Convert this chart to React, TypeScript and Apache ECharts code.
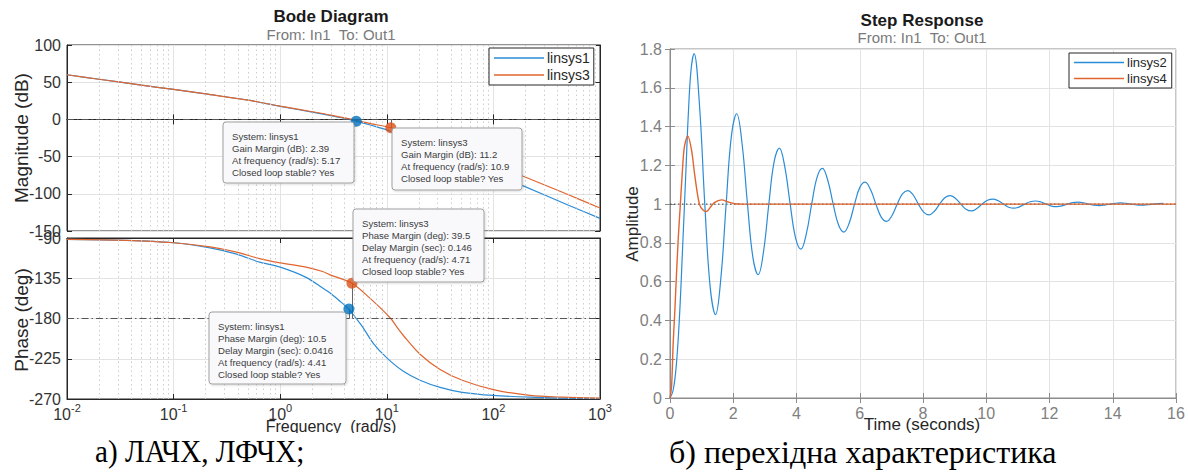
import React, { useEffect, useRef } from 'react';
import * as echarts from 'echarts';

// ---------- Bode magnitude (dB) ----------
const magFreq1 = [0.01, 0.02, 0.05, 0.1, 0.2, 0.5, 1, 2, 3, 4.41, 5.17, 7, 10, 20, 50, 100, 188, 500, 1000];
const magVal1 = [60, 54, 46, 40.3, 34.2, 25.8, 17.5, 9.8, 4.9, 0, -2.39, -7.5, -14, -31, -54, -72, -89, -115, -133];
const magFreq3 = [0.01, 0.02, 0.05, 0.1, 0.2, 0.5, 1, 2, 3, 4.71, 7, 10.9, 20, 50, 100, 188, 500, 1000];
const magVal3 = [60, 54, 46, 40.3, 34.2, 25.9, 17.8, 10.3, 5.8, 0, -5.6, -11.2, -23.5, -43, -60, -76, -101, -119];

// ---------- Bode phase (deg) ----------
const phFreq1 = [0.01, 0.036, 0.1, 0.22, 0.39, 0.64, 1, 1.75, 2.5, 2.9, 3.5, 4.41, 5.17, 5.9, 7.5, 10, 14.3, 20.5, 31.6, 51, 100, 220, 450, 1000];
const phVal1 = [-91.5, -92.6, -95.3, -101, -108, -117, -122.6, -134, -146, -151, -159, -169.5, -180, -189, -208, -224, -239, -249, -257, -262.5, -266, -268, -269, -269.5];
const phFreq3 = [0.01, 0.036, 0.1, 0.22, 0.39, 0.64, 1, 1.75, 2.5, 2.9, 4.71, 6.9, 10.9, 12.5, 14.3, 20.5, 31.6, 51, 100, 220, 450, 1000];
const phVal3 = [-91.5, -92.6, -95.3, -100, -105.8, -113, -117.8, -122.6, -127.5, -131, -140.5, -157, -180, -190, -199, -220, -237, -249, -259.5, -266, -268, -269];

// ---------- Margin markers ----------
const gmFreq = [5.17, 10.9];
const gmMag = [-2.39, -11.2];
const pmFreq = [4.41, 4.71];
const pmPhase = [-169.5, -140.5];

// ---------- Step response ----------
const stepT2 = [0, 0.1, 0.2, 0.3, 0.4, 0.5, 0.59, 0.67, 0.76, 0.93, 1.1, 1.27, 1.44, 1.61, 1.775, 1.94, 2.11, 2.28, 2.45, 2.62, 2.79, 2.96, 3.125, 3.29, 3.46, 3.63, 3.8, 3.97, 4.14, 4.31, 4.48, 4.65, 4.82, 4.99, 5.16, 5.33, 5.5, 5.67, 5.835, 6.0, 6.17, 6.34, 6.51, 6.68, 6.85, 7.02, 7.185, 7.35, 7.52, 7.69, 7.855, 8.02, 8.19, 8.36, 8.525, 8.69, 8.86, 9.03, 9.195, 9.36, 9.53, 9.7, 9.87, 10.04, 10.21, 10.38, 10.545, 10.71, 10.88, 11.05, 11.22, 11.39, 11.56, 11.73, 11.895, 12.06, 12.23, 12.4, 12.565, 12.73, 12.9, 13.07, 13.24, 13.41, 13.58, 13.75, 13.915, 14.08, 14.25, 14.42, 14.59, 14.76, 14.93, 15.1, 15.265, 15.43, 15.6];
const stepY2 = [0, 0.04, 0.17, 0.42, 0.78, 1.16, 1.5, 1.7, 1.776, 1.516, 1.0, 0.573, 0.43, 0.621, 1.0, 1.349, 1.466, 1.31, 1.0, 0.727, 0.636, 0.758, 1.0, 1.217, 1.289, 1.192, 1.0, 0.826, 0.768, 0.846, 1.0, 1.138, 1.184, 1.122, 1.0, 0.892, 0.856, 0.904, 1.0, 1.085, 1.113, 1.075, 1.0, 0.933, 0.911, 0.941, 1.0, 1.053, 1.07, 1.047, 1.0, 0.959, 0.945, 0.963, 1.0, 1.033, 1.044, 1.029, 1.0, 0.974, 0.965, 0.977, 1.0, 1.02, 1.026, 1.017, 1.0, 0.984, 0.979, 0.986, 1.0, 1.012, 1.016, 1.011, 1.0, 0.99, 0.987, 0.991, 1.0, 1.0075, 1.01, 1.007, 1.0, 0.994, 0.992, 0.995, 1.0, 1.0045, 1.006, 1.004, 1.0, 0.996, 0.995, 0.997, 1.0, 1.003, 1.004];
const stepT4 = [0, 0.05, 0.1, 0.15, 0.2, 0.26, 0.32, 0.38, 0.45, 0.56, 0.68, 0.79, 0.93, 1.05, 1.16, 1.28, 1.4, 1.63, 1.85, 2.05, 2.3, 16];
const stepY4 = [0, 0.06, 0.28, 0.44, 0.62, 0.82, 0.98, 1.14, 1.29, 1.352, 1.28, 1.14, 1.0, 0.968, 0.962, 0.985, 1.008, 1.022, 1.01, 1.002, 1.0, 1.0];
const stepRefT = [0, 16];
const stepRefY = [1, 1];

// ---------- Axes ----------
const decadeMantissas = [2, 3, 4, 5, 6, 7, 8, 9];
const decades = [0.01, 0.1, 1, 10, 100];

const BLUE = '#2b8cd6';
const ORANGE = '#e0652f';
const BLUE_M = '#0072BD';
const ORANGE_M = '#D95319';
const FONT = '"Liberation Sans", Arial, Helvetica, sans-serif';
const SERIF = '"Liberation Serif", "Times New Roman", serif';
const AX = '#262626';
const GRIDC = '#e3e3e3';

const zip = (xs: number[], ys: number[]) => xs.map((x, i) => [x, ys[i]]);

const minorLines = decades.flatMap((d) => decadeMantissas.map((m) => ({
  xAxis: +(d * m).toPrecision(3),
  lineStyle: { type: [1.5, 3], color: '#cdcdcd', width: 1 },
})));

const dashDot = { type: [7, 3, 1.5, 3], color: '#555', width: 1 };
const stem = { type: 'solid', color: '#666', width: 1 };

function tip(x: number, y: number, w: number, h: number, lines: string[]) {
  return {
    type: 'group',
    z: 50,
    children: [
      {
        type: 'rect', z: 50,
        shape: { x, y, width: w, height: h, r: 3 },
        style: { fill: '#f9f9fc', stroke: '#a0a0a0', lineWidth: 1, shadowBlur: 2, shadowColor: 'rgba(0,0,0,0.15)', shadowOffsetX: 1, shadowOffsetY: 1 },
      },
      {
        type: 'text', z: 51,
        style: {
          x: x + 9, y: y + 8, text: lines.join('\n'), fill: '#3c3c3c',
          fontSize: 9.6, fontFamily: FONT, lineHeight: 12, verticalAlign: 'top', textVerticalAlign: 'top',
        },
      },
    ],
  };
}

function centeredText(x: number, y: number, text: string, size: number, color: string, bold = false, rotation = 0, family = FONT) {
  return {
    type: 'text', z: 60, x, y, rotation,
    style: {
      x: 0, y: 0, text, fill: color, fontSize: size, fontFamily: family, fontWeight: bold ? 'bold' : 'normal',
      align: 'center', textAlign: 'center', verticalAlign: 'middle', textVerticalAlign: 'middle',
    },
  };
}

export default function App() {
  const ref = useRef<HTMLDivElement>(null);
  useEffect(() => {
    if (!ref.current) return;
    const chart = echarts.init(ref.current, undefined, { renderer: 'svg' });

    const logAxisCommon = {
      type: 'log', logBase: 10, min: 0.01, max: 1000,
      axisLine: { show: true, lineStyle: { color: AX } },
      axisTick: { show: true, inside: true, length: 5, lineStyle: { color: AX } },
      splitLine: { show: true, lineStyle: { color: GRIDC, width: 1 } },
      minorTick: { show: false },
    };
    const stepAxisLine = { show: true, lineStyle: { color: '#8c8c8c' } };
    const stepTick = { show: true, inside: true, length: 5, lineStyle: { color: '#8c8c8c' } };

    const option: any = {
      animation: false,
      textStyle: { fontFamily: FONT },
      grid: [
        { left: 67, top: 45, width: 533, height: 186, show: true, borderColor: AX, borderWidth: 1, backgroundColor: '#fff' },
        { left: 67, top: 238, width: 533, height: 161, show: true, borderColor: AX, borderWidth: 1, backgroundColor: '#fff' },
        { left: 670, top: 49, width: 506, height: 349, show: true, borderColor: '#8c8c8c', borderWidth: 1, backgroundColor: '#fff' },
      ],
      xAxis: [
        { ...logAxisCommon, gridIndex: 0, axisLabel: { show: false } },
        {
          ...logAxisCommon, gridIndex: 1,
          axisLabel: {
            show: true, margin: 3,
            formatter: (v: number) => `{b|10}{s|${Math.round(Math.log10(v))}}`,
            rich: {
              b: { fontSize: 16, color: '#333', fontFamily: FONT, lineHeight: 20, verticalAlign: 'bottom' },
              s: { fontSize: 11, color: '#333', fontFamily: FONT, lineHeight: 12, verticalAlign: 'top' },
            },
          },
        },
        { ...logAxisCommon, gridIndex: 0, position: 'top', axisLabel: { show: false }, splitLine: { show: false } },
        { ...logAxisCommon, gridIndex: 1, position: 'top', axisLabel: { show: false }, splitLine: { show: false } },
        {
          type: 'value', gridIndex: 2, min: 0, max: 16, interval: 2,
          axisLine: stepAxisLine, axisTick: stepTick,
          axisLabel: { fontSize: 16, color: '#808080', margin: 7 },
          splitLine: { show: true, lineStyle: { color: GRIDC } },
        },
        {
          type: 'value', gridIndex: 2, min: 0, max: 16, interval: 2, position: 'top',
          axisLine: stepAxisLine, axisTick: stepTick, axisLabel: { show: false }, splitLine: { show: false },
        },
      ],
      yAxis: [
        {
          type: 'value', gridIndex: 0, min: -150, max: 100, interval: 50,
          axisLine: { show: true, lineStyle: { color: AX } },
          axisTick: { show: true, inside: true, length: 5, lineStyle: { color: AX } },
          axisLabel: { fontSize: 16, color: '#333', margin: 6 },
          splitLine: { show: true, lineStyle: { color: GRIDC } },
        },
        {
          type: 'value', gridIndex: 1, min: -270, max: -90, interval: 45,
          axisLine: { show: true, lineStyle: { color: AX } },
          axisTick: { show: true, inside: true, length: 5, lineStyle: { color: AX } },
          axisLabel: { fontSize: 16, color: '#333', margin: 6 },
          splitLine: { show: true, lineStyle: { color: GRIDC } },
        },
        {
          type: 'value', gridIndex: 2, min: 0, max: 1.8, interval: 0.2,
          axisLine: stepAxisLine, axisTick: stepTick,
          axisLabel: { fontSize: 16, color: '#808080', margin: 8 },
          splitLine: { show: true, lineStyle: { color: GRIDC } },
        },
        {
          type: 'value', gridIndex: 0, min: -150, max: 100, interval: 50, position: 'right',
          axisLine: { show: true, lineStyle: { color: AX } },
          axisTick: { show: true, inside: true, length: 5, lineStyle: { color: AX } },
          axisLabel: { show: false }, splitLine: { show: false },
        },
        {
          type: 'value', gridIndex: 1, min: -270, max: -90, interval: 45, position: 'right',
          axisLine: { show: true, lineStyle: { color: AX } },
          axisTick: { show: true, inside: true, length: 5, lineStyle: { color: AX } },
          axisLabel: { show: false }, splitLine: { show: false },
        },
        {
          type: 'value', gridIndex: 2, min: 0, max: 1.8, interval: 0.2, position: 'right',
          axisLine: stepAxisLine, axisTick: stepTick, axisLabel: { show: false }, splitLine: { show: false },
        },
      ],
      legend: [
        {
          data: [{ name: 'linsys1', itemStyle: { color: BLUE } }, { name: 'linsys3', itemStyle: { color: ORANGE } }],
          orient: 'vertical', left: 489, top: 48,
          icon: 'rect', itemWidth: 50, itemHeight: 1.6, itemGap: 3,
          itemStyle: { borderWidth: 0 },
          padding: [3, 4, 3, 5], borderColor: AX, borderWidth: 1, borderRadius: 0, backgroundColor: '#fff',
          textStyle: { fontSize: 14, color: AX, fontFamily: FONT, padding: [0, 0, 0, -2] },
          selectedMode: false, z: 40,
        },
        {
          data: [{ name: 'linsys2', itemStyle: { color: BLUE } }, { name: 'linsys4', itemStyle: { color: ORANGE } }],
          orient: 'vertical', left: 1069, top: 53,
          icon: 'rect', itemWidth: 50, itemHeight: 1.6, itemGap: 3,
          itemStyle: { borderWidth: 0 },
          padding: [3, 5, 3, 5], borderColor: AX, borderWidth: 1, borderRadius: 0, backgroundColor: '#fff',
          textStyle: { fontSize: 13, color: AX, fontFamily: FONT, padding: [0, 0, 0, -2] },
          selectedMode: false, z: 40,
        },
      ],
      series: [
        // helpers: minor grid + reference lines
        {
          type: 'line', xAxisIndex: 0, yAxisIndex: 0, data: [], silent: true, z: 1,
          markLine: {
            silent: true, symbol: ['none', 'none'], label: { show: false }, animation: false,
            data: [
              ...minorLines,
              { yAxis: 0, lineStyle: dashDot },
              [{ coord: [gmFreq[0], 0], lineStyle: stem }, { coord: [gmFreq[0], gmMag[0]] }],
              [{ coord: [gmFreq[1], 0], lineStyle: stem }, { coord: [gmFreq[1], gmMag[1]] }],
            ],
          },
        },
        {
          type: 'line', xAxisIndex: 1, yAxisIndex: 1, data: [], silent: true, z: 1,
          markLine: {
            silent: true, symbol: ['none', 'none'], label: { show: false }, animation: false,
            data: [
              ...minorLines,
              { yAxis: -180, lineStyle: dashDot },
              [{ coord: [pmFreq[0], -180], lineStyle: stem }, { coord: [pmFreq[0], pmPhase[0]] }],
              [{ coord: [pmFreq[1], -180], lineStyle: stem }, { coord: [pmFreq[1], pmPhase[1]] }],
            ],
          },
        },
        {
          type: 'line', xAxisIndex: 4, yAxisIndex: 2, data: zip(stepRefT, stepRefY), silent: true, z: 1,
          showSymbol: false, color: '#333', lineStyle: { type: [1.5, 2.5], width: 1, color: '#333' },
        },
        // Bode magnitude
        { name: 'linsys1', type: 'line', xAxisIndex: 0, yAxisIndex: 0, data: zip(magFreq1, magVal1), showSymbol: false, smooth: 0.3, color: BLUE, lineStyle: { width: 1.2 }, z: 3 },
        { name: 'linsys3', type: 'line', xAxisIndex: 0, yAxisIndex: 0, data: zip(magFreq3, magVal3), showSymbol: false, smooth: 0.3, color: ORANGE, lineStyle: { width: 1.2 }, z: 3 },
        // Bode phase
        { name: 'linsys1', type: 'line', xAxisIndex: 1, yAxisIndex: 1, data: zip(phFreq1, phVal1), showSymbol: false, smooth: 0.3, color: BLUE, lineStyle: { width: 1.2 }, z: 3 },
        { name: 'linsys3', type: 'line', xAxisIndex: 1, yAxisIndex: 1, data: zip(phFreq3, phVal3), showSymbol: false, smooth: 0.3, color: ORANGE, lineStyle: { width: 1.2 }, z: 3 },
        // markers
        { type: 'scatter', xAxisIndex: 0, yAxisIndex: 0, symbolSize: 11, z: 5, data: [{ value: [gmFreq[0], gmMag[0]], itemStyle: { color: BLUE_M } }, { value: [gmFreq[1], gmMag[1]], itemStyle: { color: ORANGE_M } }] },
        { type: 'scatter', xAxisIndex: 1, yAxisIndex: 1, symbolSize: 11, z: 5, data: [{ value: [pmFreq[0], pmPhase[0]], itemStyle: { color: BLUE_M } }, { value: [pmFreq[1], pmPhase[1]], itemStyle: { color: ORANGE_M } }] },
        // Step response
        { name: 'linsys2', type: 'line', xAxisIndex: 4, yAxisIndex: 2, data: zip(stepT2, stepY2), showSymbol: false, smooth: 0.4, color: BLUE, lineStyle: { width: 1.2 }, z: 3 },
        { name: 'linsys4', type: 'line', xAxisIndex: 4, yAxisIndex: 2, data: zip(stepT4, stepY4), showSymbol: false, smooth: 0.3, color: ORANGE, lineStyle: { width: 1.4 }, z: 4 },
      ],
      graphic: [
        centeredText(331, 16, 'Bode Diagram', 17, '#1a1a1a', true),
        centeredText(331, 34, 'From: In1  To: Out1', 15, '#7a7a7a'),
        centeredText(922, 20, 'Step Response', 17, '#1a1a1a', true),
        centeredText(922, 37, 'From: In1  To: Out1', 15, '#7a7a7a'),
        centeredText(21, 138, 'Magnitude (dB)', 19, AX, false, Math.PI / 2),
        centeredText(21, 320, 'Phase (deg)', 19, AX, false, Math.PI / 2),
        centeredText(331, 426, 'Frequency  (rad/s)', 16, AX),
        centeredText(632, 224, 'Amplitude', 17, AX, false, Math.PI / 2),
        centeredText(922, 424, 'Time (seconds)', 17, AX),
        tip(223, 122, 131, 61, ['System: linsys1', 'Gain Margin (dB): 2.39', 'At frequency (rad/s): 5.17', 'Closed loop stable? Yes']),
        tip(392, 128, 130, 62, ['System: linsys3', 'Gain Margin (dB): 11.2', 'At frequency (rad/s): 10.9', 'Closed loop stable? Yes']),
        tip(353, 209, 131, 73, ['System: linsys3', 'Phase Margin (deg): 39.5', 'Delay Margin (sec): 0.146', 'At frequency (rad/s): 4.71', 'Closed loop stable? Yes']),
        tip(209, 312, 137, 72, ['System: linsys1', 'Phase Margin (deg): 10.5', 'Delay Margin (sec): 0.0416', 'At frequency (rad/s): 4.41', 'Closed loop stable? Yes']),
        { type: 'rect', z: 70, shape: { x: 0, y: 433, width: 640, height: 39 }, style: { fill: '#fff' } },
        {
          type: 'text', z: 80, x: 95, y: 452, scaleX: 0.91,
          style: { x: 0, y: 0, text: 'а) ЛАЧХ, ЛФЧХ;', fill: '#000', fontSize: 32, fontFamily: SERIF, verticalAlign: 'middle', textVerticalAlign: 'middle' },
        },
        {
          type: 'text', z: 80, x: 669, y: 452,
          style: { x: 0, y: 0, text: 'б) перехідна характеристика', fill: '#000', fontSize: 32, fontFamily: SERIF, verticalAlign: 'middle', textVerticalAlign: 'middle' },
        },
      ],
    };

    chart.setOption(option);
    return () => chart.dispose();
  }, []);

  return <div ref={ref} style={{ position: 'fixed', left: 0, top: 0, width: 1188, height: 472, background: '#fff' }} />;
}
